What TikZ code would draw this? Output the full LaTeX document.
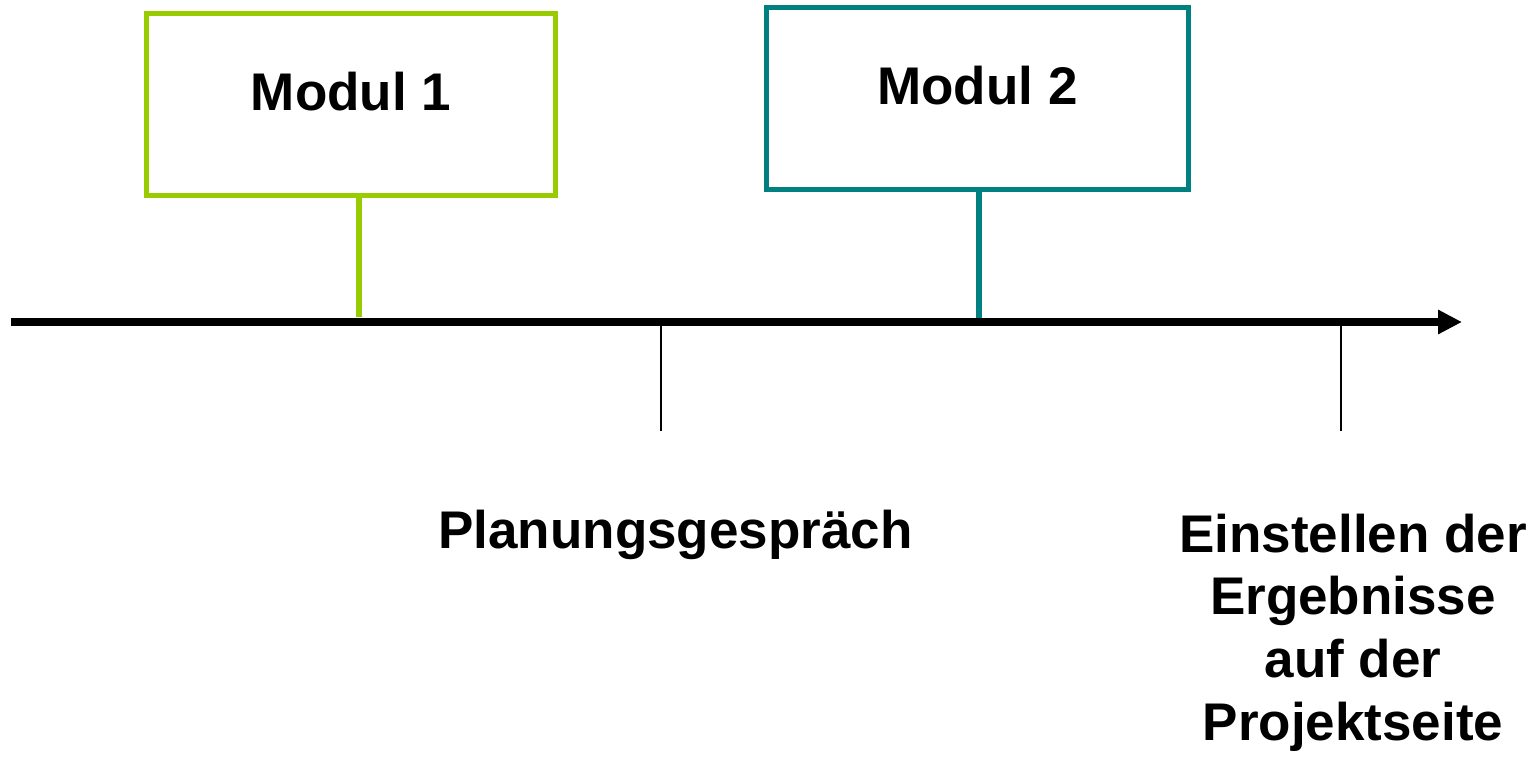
\documentclass[tikz,border=0pt]{standalone}
\usepackage{fontspec}
\setmainfont{Liberation Sans}
\usetikzlibrary{arrows.meta}

\definecolor{modgreen}{HTML}{99CC00}
\definecolor{modteal}{HTML}{008080}

\begin{document}
\begin{tikzpicture}[
        x=0.5pt, y=-0.5pt,
        module/.style={rectangle, draw, line width=2.5pt, minimum height=91pt, text height=19pt, text depth=13pt, font=\fontsize{26.5}{31.3}\selectfont\bfseries},
        stem/.style={line width=3pt},
        axis/.style={line width=4pt, -{Triangle[length=12pt, width=11.5pt]}},
        tick/.style={line width=1pt},
        event/.style={align=center, anchor=base, font=\fontsize{26.5}{31.3}\selectfont\bfseries}
      ]
        \useasboundingbox (0,0) rectangle (1539,757);

        % Time axis
        \coordinate (axstart) at (11,322);
        \coordinate (axend) at (1462,322);
        \draw[axis] (axstart) -- (axend);

        % Modules above the axis
        \node[module, draw=modgreen, minimum width=204.25pt] (modul1) at (351,104) {Modul 1};
        \node[module, draw=modteal, minimum width=211pt] (modul2) at (977.5,98.5) {Modul 2};

        \coordinate (modul1foot) at (359,317);
        \coordinate (modul2foot) at (979,318);
        \draw[stem, modgreen] (modul1.south -| modul1foot) -- (modul1foot);
        \draw[stem, modteal] (modul2.south -| modul2foot) -- (modul2foot);

        % Events below the axis
        \coordinate (tick1top) at (661,326);
        \coordinate (tick1bot) at (661,431);
        \coordinate (tick2top) at (1341,326);
        \coordinate (tick2bot) at (1341,431);
        \draw[tick] (tick1top) -- (tick1bot);
        \draw[tick] (tick2top) -- (tick2bot);

        \node[event] (planung) at (675.5,548) {Planungsgespräch};
        \node[event] (ergebnis) at (1353,740) {Einstellen der\\Ergebnisse\\auf der\\Projektseite};
      \end{tikzpicture}
\end{document}
